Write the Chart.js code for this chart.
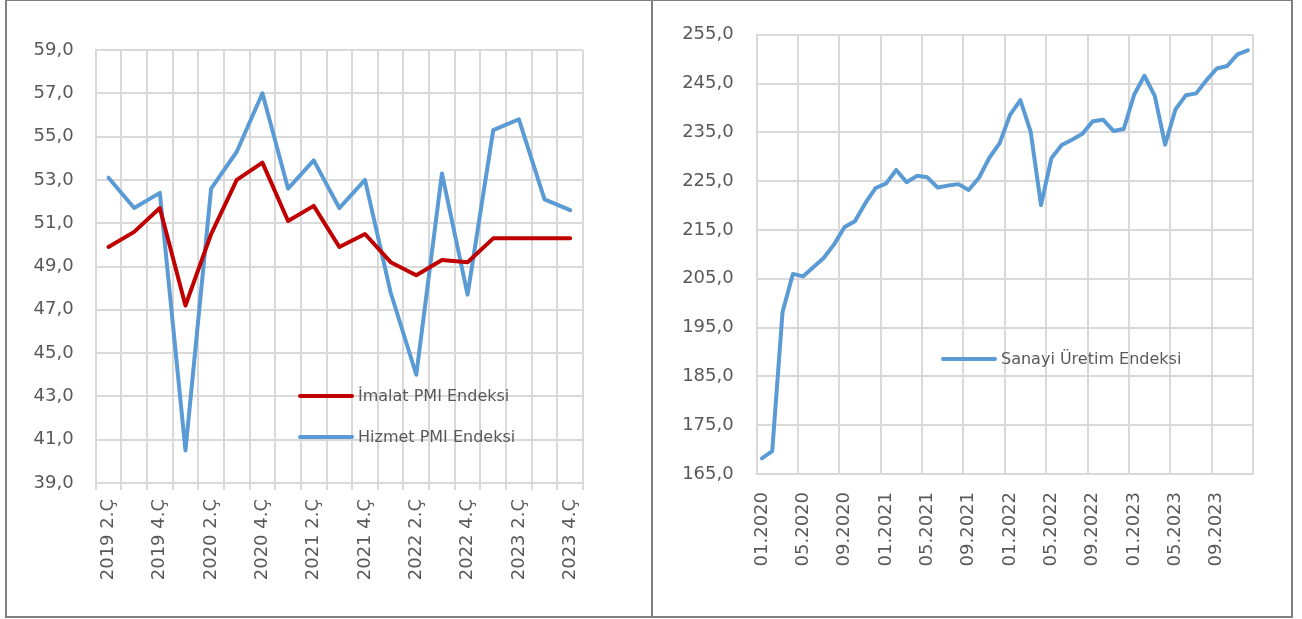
<!DOCTYPE html>
<html>
<head>
<meta charset="utf-8">
<script src="https://cdn.jsdelivr.net/npm/chart.js@4.4.1/dist/chart.umd.min.js"></script>
<style>
  body { margin: 0; background: #fff; }
  .box { position: absolute; border: 2px solid #7f7f7f; box-sizing: border-box; }
  canvas { position: absolute; }
</style>
</head>
<body>
<div class="box" style="left:5px;top:-1px;width:648px;height:619px;"></div>
<div class="box" style="left:651px;top:-1px;width:642px;height:619px;"></div>
<canvas id="pmi" width="644" height="614" style="left:7px;top:1px;"></canvas>
<canvas id="sanayi" width="636" height="614" style="left:654px;top:1px;"></canvas>
<script>
var quarters = ['2019 2.Ç','2019 3.Ç','2019 4.Ç','2020 1.Ç','2020 2.Ç','2020 3.Ç','2020 4.Ç',
	'2021 1.Ç','2021 2.Ç','2021 3.Ç','2021 4.Ç','2022 1.Ç','2022 2.Ç','2022 3.Ç','2022 4.Ç',
	'2023 1.Ç','2023 2.Ç','2023 3.Ç','2023 4.Ç'];
var imalat = [49.9, 50.6, 51.7, 47.2, 50.5, 53.0, 53.8, 51.1, 51.8, 49.9, 50.5, 49.2, 48.6, 49.3, 49.2, 50.3, 50.3, 50.3, 50.3];
var hizmet = [53.1, 51.7, 52.4, 40.5, 52.6, 54.3, 57.0, 52.6, 53.9, 51.7, 53.0, 47.8, 44.0, 53.3, 47.7, 55.3, 55.8, 52.1, 51.6];

var months = ['01.2020','02.2020','03.2020','04.2020','05.2020','06.2020','07.2020','08.2020','09.2020','10.2020','11.2020','12.2020',
	'01.2021','02.2021','03.2021','04.2021','05.2021','06.2021','07.2021','08.2021','09.2021','10.2021','11.2021','12.2021',
	'01.2022','02.2022','03.2022','04.2022','05.2022','06.2022','07.2022','08.2022','09.2022','10.2022','11.2022','12.2022',
	'01.2023','02.2023','03.2023','04.2023','05.2023','06.2023','07.2023','08.2023','09.2023','10.2023','11.2023','12.2023'];
var sanayi = [168.2, 169.7, 198.2, 206.0, 205.5, 207.4, 209.3, 212.1, 215.6, 216.8, 220.5, 223.6,
	224.5, 227.3, 224.8, 226.1, 225.8, 223.7, 224.1, 224.4, 223.2, 225.7, 229.8, 232.8,
	238.6, 241.6, 235.1, 220.1, 229.7, 232.4, 233.5, 234.7, 237.3, 237.6, 235.3, 235.7,
	242.7, 246.6, 242.5, 232.5, 239.7, 242.6, 243.0, 245.7, 248.1, 248.6, 251.0, 251.8];

var RED = '#C00000';
var BLUE = '#5B9BD5';
var GRID = '#D9D9D9';
var TEXT = '#595959';

function virgul(v) {
	return v.toFixed(1).replace('.', ',');
}

// excel-style legend drawn inside the plot
function legendPlugin(items) {
	return {
		id: 'icLegend',
		afterDraw: function(chart) {
			var ctx = chart.ctx;
			ctx.save();
			ctx.font = '16px "DejaVu Sans"';
			ctx.fillStyle = TEXT;
			ctx.textBaseline = 'middle';
			items.forEach(function(it) {
				var ds = chart.data.datasets[it.ds];
				ctx.strokeStyle = ds.borderColor;
				ctx.lineWidth = 4;
				ctx.lineCap = 'round';
				ctx.beginPath();
				ctx.moveTo(it.x, it.y);
				ctx.lineTo(it.x + 52, it.y);
				ctx.stroke();
				ctx.fillText(ds.label, it.x + 58, it.y + 1);
			});
			ctx.restore();
		}
	};
}

Chart.defaults.font.family = '"DejaVu Sans"';
Chart.defaults.font.size = 18;
Chart.defaults.color = TEXT;

new Chart(document.getElementById('pmi'), {
	type: 'line',
	data: {
		labels: quarters,
		datasets: [
			{ label: 'İmalat PMI Endeksi', data: imalat, borderColor: RED, backgroundColor: RED,
			  borderWidth: 4, pointRadius: 0, borderCapStyle: 'round', borderJoinStyle: 'round' },
			{ label: 'Hizmet PMI Endeksi', data: hizmet, borderColor: BLUE, backgroundColor: BLUE,
			  borderWidth: 4, pointRadius: 0, borderCapStyle: 'round', borderJoinStyle: 'round' }
		]
	},
	options: {
		responsive: false,
		animation: false,
		devicePixelRatio: 1,
		layout: { padding: { top: 49, right: 68, left: 0, bottom: 0 } },
		plugins: { legend: { display: false }, tooltip: { enabled: false } },
		scales: {
			x: {
				offset: true,
				grid: { offset: true, color: GRID, lineWidth: 2, tickLength: 7 },
				border: { color: GRID, width: 2 },
				ticks: {
					autoSkip: false, minRotation: 90, maxRotation: 90, padding: 9,
					callback: function(v, i) { return i % 2 === 0 ? this.getLabelForValue(v) : ''; }
				},
				afterFit: function(s) { s.height = 132; }
			},
			y: {
				min: 39, max: 59,
				grid: { color: GRID, lineWidth: 2, drawTicks: false },
				border: { color: GRID, width: 2 },
				ticks: { stepSize: 2, padding: 22, callback: function(v) { return virgul(v); } },
				afterFit: function(s) { s.width = 88.7; }
			}
		}
	},
	plugins: [legendPlugin([{ ds: 0, x: 293, y: 395 }, { ds: 1, x: 293, y: 436 }])]
});

new Chart(document.getElementById('sanayi'), {
	type: 'line',
	data: {
		labels: months,
		datasets: [
			{ label: 'Sanayi Üretim Endeksi', data: sanayi, borderColor: BLUE, backgroundColor: BLUE,
			  borderWidth: 4, pointRadius: 0, borderCapStyle: 'round', borderJoinStyle: 'round' }
		]
	},
	options: {
		responsive: false,
		animation: false,
		devicePixelRatio: 1,
		layout: { padding: { top: 29, right: 37, left: 0, bottom: 0 } },
		plugins: { legend: { display: false }, tooltip: { enabled: false } },
		scales: {
			x: {
				offset: true,
				grid: {
					offset: true, lineWidth: 2, drawTicks: false,
					color: function(c) {
						var i = (c.index === undefined) ? months.length : c.index;
						return i % 4 === 0 ? GRID : 'rgba(0,0,0,0)';
					}
				},
				border: { color: GRID, width: 2 },
				ticks: {
					autoSkip: false, minRotation: 90, maxRotation: 90, padding: 18,
					callback: function(v, i) { return i % 4 === 0 ? this.getLabelForValue(v) : ''; }
				},
				afterFit: function(s) { s.height = 141; }
			},
			y: {
				min: 165, max: 255,
				grid: { color: GRID, lineWidth: 2, drawTicks: false },
				border: { color: GRID, width: 2 },
				ticks: { stepSize: 10, padding: 23, callback: function(v) { return virgul(v); } },
				afterFit: function(s) { s.width = 102.7; }
			}
		}
	},
	plugins: [legendPlugin([{ ds: 0, x: 289, y: 358 }])]
});
</script>
</body>
</html>
